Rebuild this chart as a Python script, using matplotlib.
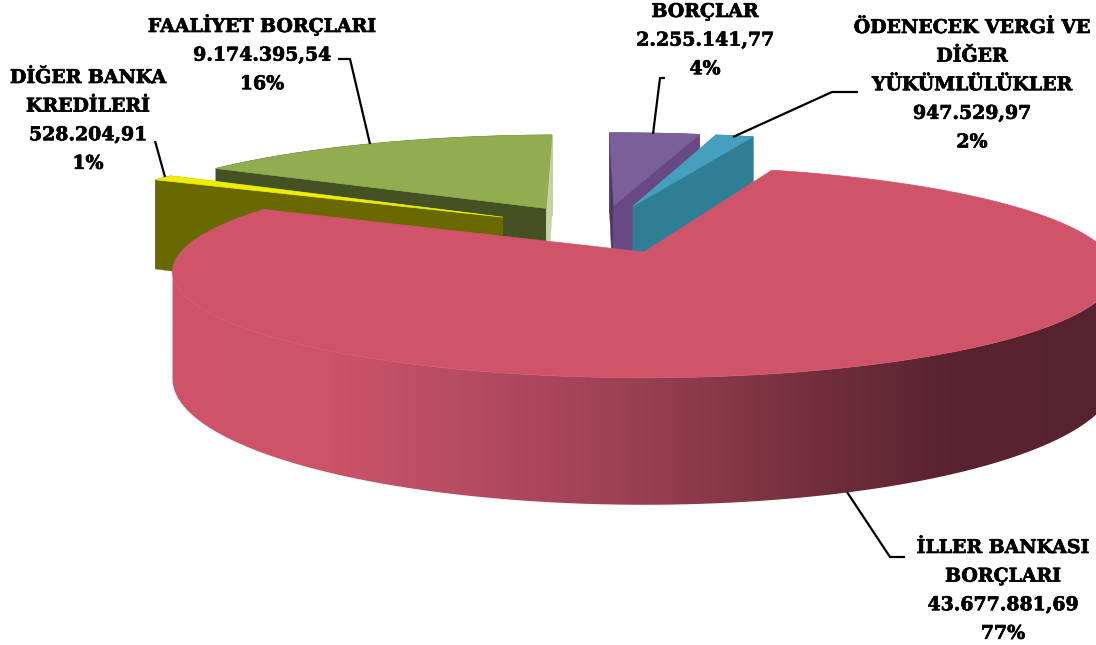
import numpy as np
import matplotlib
matplotlib.use('Agg')
import matplotlib.pyplot as plt
import matplotlib.patheffects as pe
from matplotlib.colors import LinearSegmentedColormap
from matplotlib.patches import Polygon

# tutarlar, saat yonunde kirmizi dilimden baslayarak
names = ['İLLER BANKASI\nBORÇLARI', 'DİĞER BANKA\nKREDİLERİ', 'FAALİYET BORÇLARI', 'BORÇLAR', 'ÖDENECEK VERGİ VE\nDİĞER\nYÜKÜMLÜLÜKLER']
values = [43677881.69, 528204.91, 9174395.54, 2255141.77, 947529.97]
value_labels = ['43.677.881,69', '528.204,91', '9.174.395,54', '2.255.141,77', '947.529,97']
pct_labels = ['77%', '1%', '16%', '4%', '2%']

top_colors = ['#cf546a', '#eeee00', '#92ad50', '#7b5f9b', '#46a0bd']
rim_colors = ['#8a3040', '#696900', '#445223', '#694886', '#307d96']
start_colors = ['#8a3040', '#696900', '#445223', '#4e3a68', '#307d96']
end_colors = ['#8a3040', '#696900', '#c5d4a5', '#694886', '#307d96']

first_angle = 19.0
explode = 0.26

# perspektif
apex = (644, 252)
rx, ry, k, height = 463, 102, 0.189, 103

label_x = [1003, 88, 262, 705, 972]
label_y = [553, 83, 32, 17, 33]
line_step = 28.6
leaders = [
  [(905, 557), (890, 557), (847, 492)],
  [(155, 141), (165, 177)],
  [(338, 59), (350, 59), (370, 144)],
  [(665, 78), (660, 78), (653, 134)],
  [(858, 92), (832, 92), (733, 137)],
]


def project(x, y, z=0.0):
  w = 1 + k * y
  return apex[0] + rx * x / w, apex[1] - ry * y / w + z * height / w


def unit(a):
  a = np.radians(a)
  return np.sin(a), np.cos(a)


fig = plt.figure(figsize=(10.96, 6.45), dpi=100)
ax = fig.add_axes([0, 0, 1, 1])
ax.axis('off')

spans = np.array(values) / sum(values) * 360
starts = first_angle + np.concatenate([[0], np.cumsum(spans)[:-1]])
red_mid = unit(starts[0] + spans[0] / 2)
center = (-explode * red_mid[0], -explode * red_mid[1])

wall_cmap = LinearSegmentedColormap.from_list('wall', [
  (0.0, '#cf546a'), (0.17, '#cc5369'), (0.35, '#b04a60'), (0.5, '#9b4053'),
  (0.68, '#75303f'), (0.84, '#5a2330'), (1.0, '#572230')])


def draw_slice(i, order):
  a0, a1 = starts[i], starts[i] + spans[i]
  m = unit((a0 + a1) / 2)
  ox = center[0] + explode * m[0]
  oy = center[1] + explode * m[1]
  ang = np.linspace(a0, a1, max(int(spans[i] * 2), 8))
  px = ox + np.sin(np.radians(ang))
  py = oy + np.cos(np.radians(ang))

  # dis duvar
  upper = [project(a, b) for a, b in zip(px, py)]
  lower = [project(a, b, 1) for a, b in zip(px, py)]
  if i == 0:
    # sadece on taraf gorunur
    xs = [p[0] for p in upper]
    right, left = int(np.argmax(xs)), int(np.argmin(xs))
    wall = upper[right:left + 1] + lower[right:left + 1][::-1]
    grad = np.linspace(0, 1, 512).reshape(1, -1)
    im = ax.imshow(grad, extent=[172, 1096, 645, 0], cmap=wall_cmap, aspect='auto', zorder=order)
    im.set_clip_path(Polygon(wall, closed=True, transform=ax.transData))
  else:
    ax.fill(*zip(*(upper + lower[::-1])), color=rim_colors[i], lw=0.5, zorder=order)

  # kesit yuzeyleri
  if i != 0:
    for n, col in [(0, start_colors[i]), (-1, end_colors[i])]:
      q = [project(ox, oy), project(px[n], py[n]), project(px[n], py[n], 1), project(ox, oy, 1)]
      ax.fill(*zip(*q), color=col, lw=0.3, zorder=order)

  # ust yuzey
  top = [project(ox, oy)] + upper
  ax.fill(*zip(*top), color=top_colors[i], lw=0.5, zorder=order + 0.5)


for order, i in enumerate([2, 1, 3, 4, 0]):
  draw_slice(i, order + 1)

for pts in leaders:
  ax.plot(*zip(*pts), color='black', lw=1.6, zorder=10, solid_capstyle='butt')

for i in range(len(names)):
  lines = names[i].split('\n') + [value_labels[i], pct_labels[i]]
  for n, line in enumerate(lines):
    t = ax.text(label_x[i], label_y[i] + n * line_step, line, ha='center', va='baseline',
                family='DejaVu Serif', fontweight='bold', fontsize=13.6, color='black', zorder=11)
    t.set_path_effects([pe.withStroke(linewidth=0.5, foreground='black')])

ax.set_xlim(0, 1096)
ax.set_ylim(645, 0)
fig.savefig('out.png', dpi=100)
